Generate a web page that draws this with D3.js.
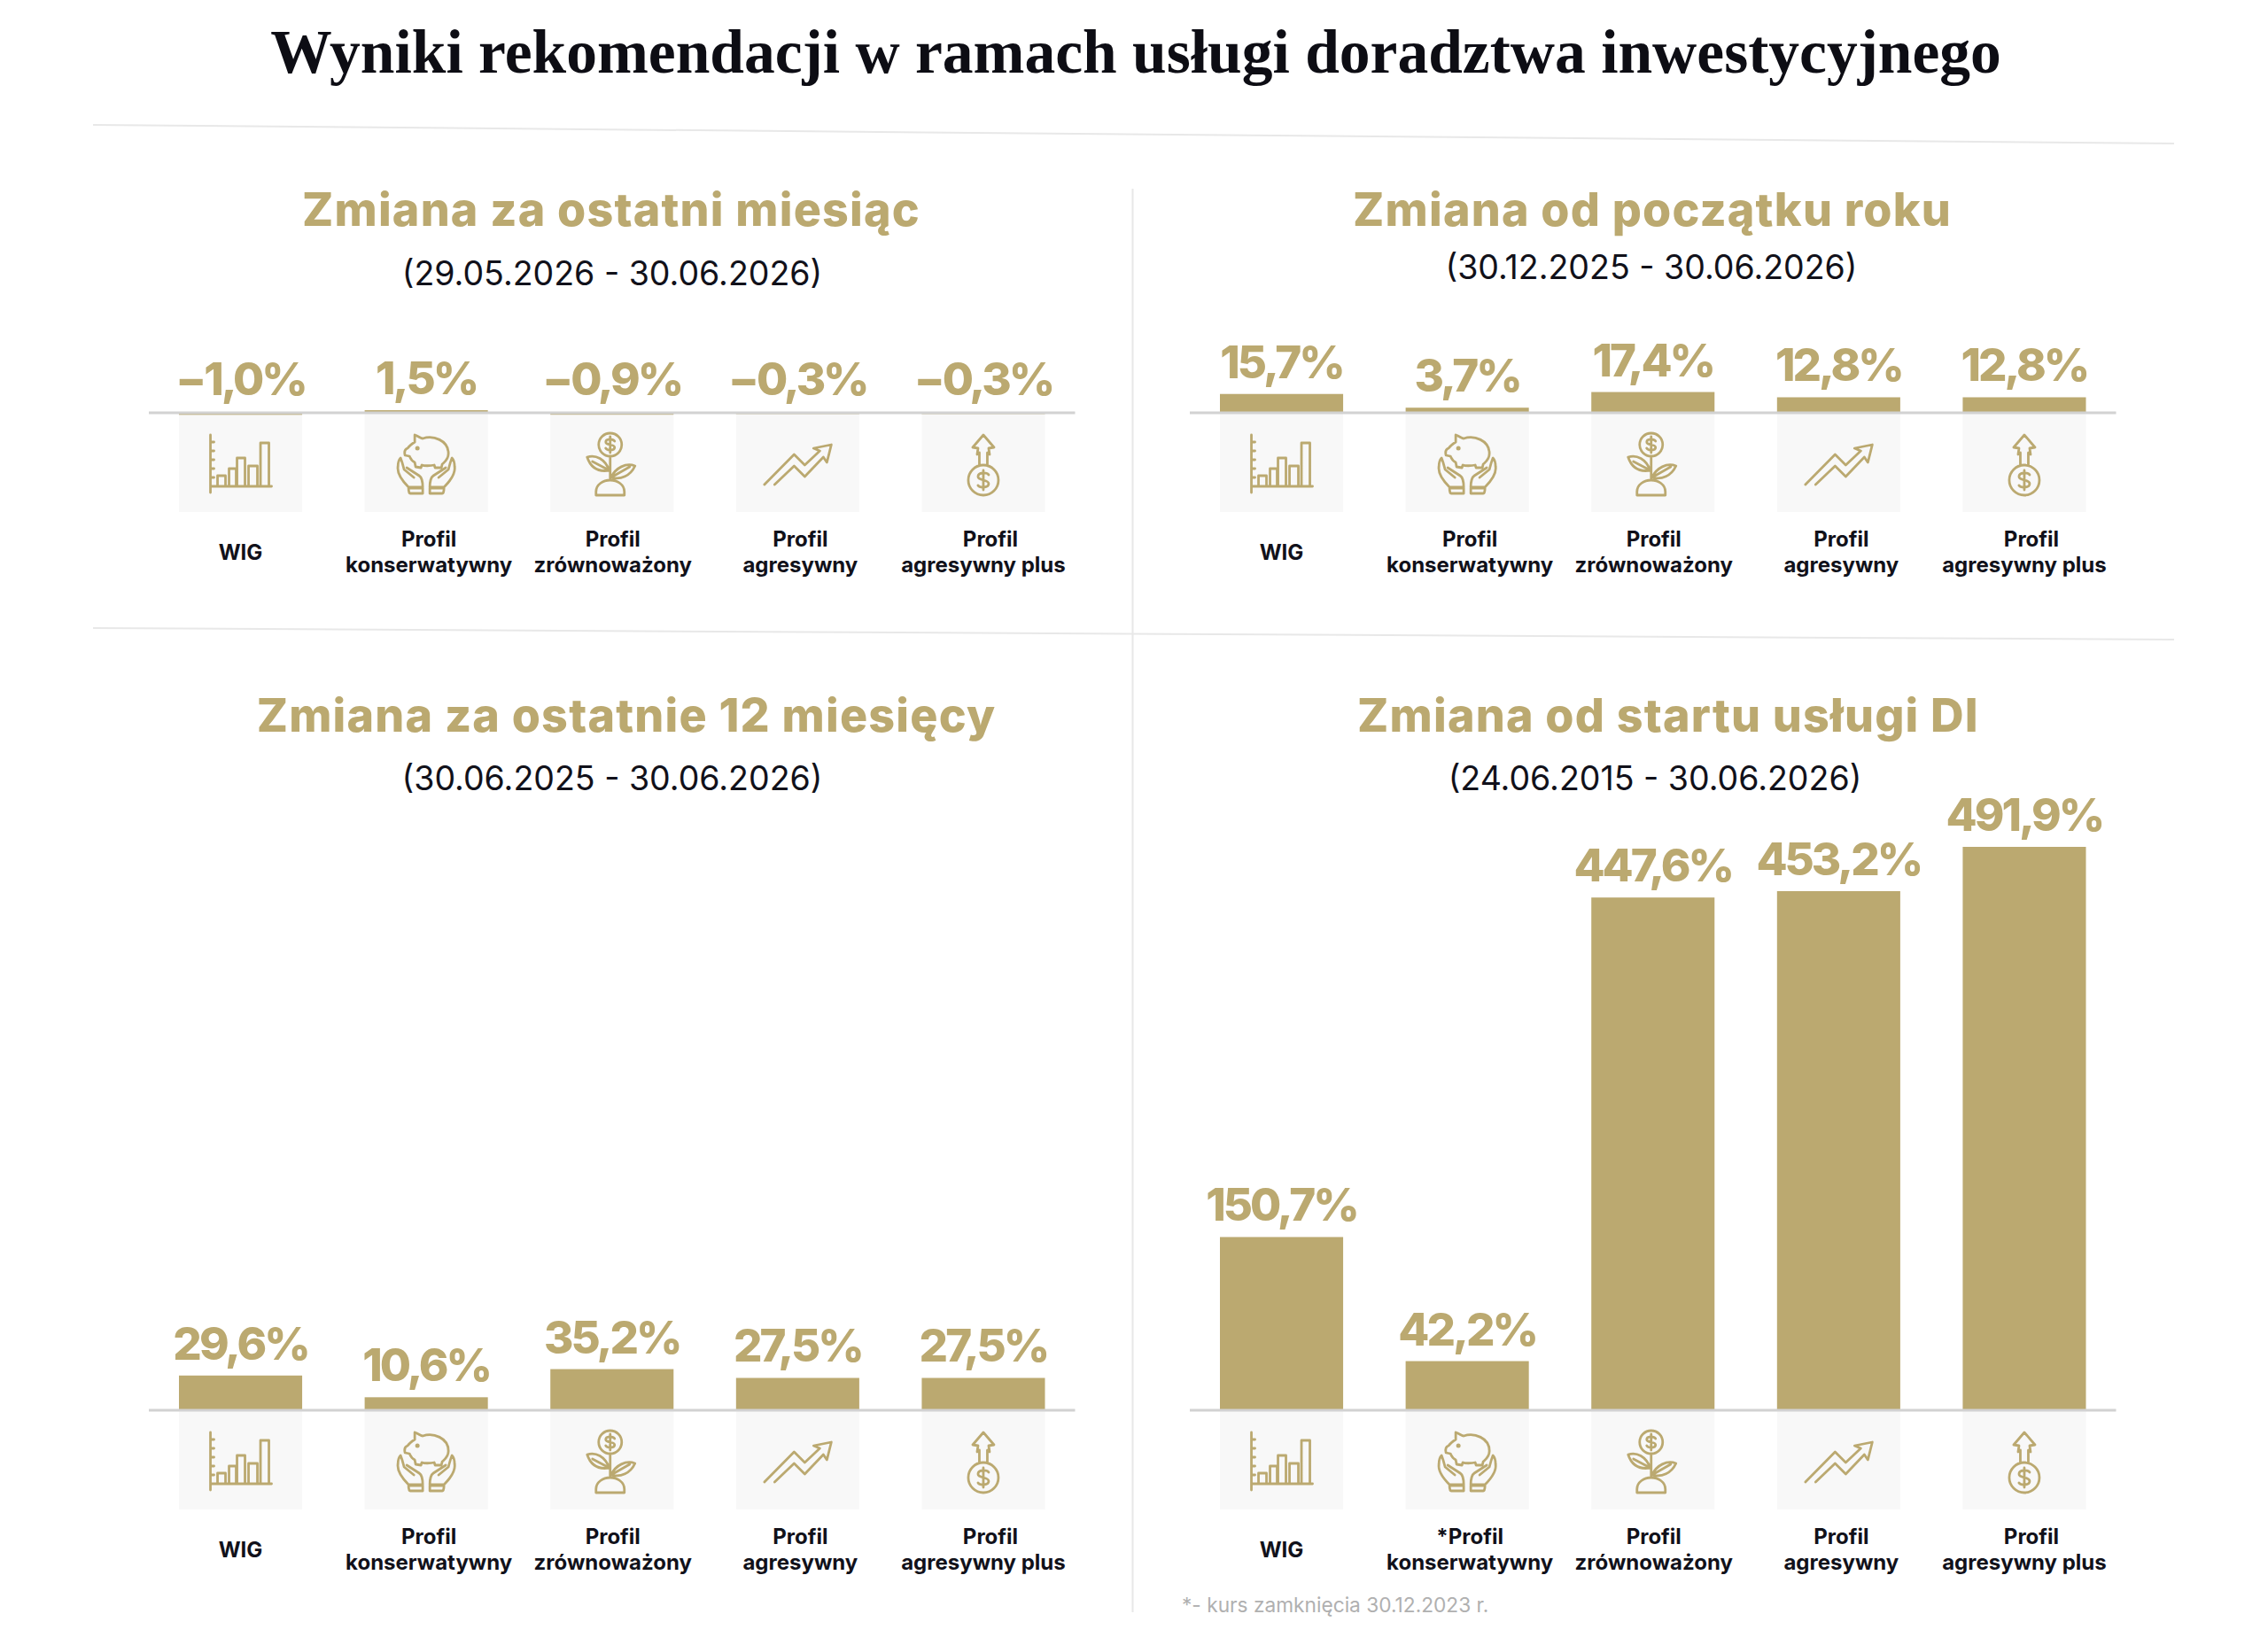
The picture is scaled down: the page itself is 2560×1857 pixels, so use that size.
<!DOCTYPE html>
<html>
<head>
<meta charset="utf-8">
<script src="https://cdn.jsdelivr.net/npm/d3@7"></script>
<style>
  body { margin: 0; background: #fff; }
  text { font-family: Inter, "Open Sans", sans-serif; }
</style>
</head>
<body>
<svg id="chart" width="2560" height="1857"></svg>
<script>
var pageTitle = "Wyniki rekomendacji w ramach usługi doradztwa inwestycyjnego";
var footnote = "*- kurs zamknięcia 30.12.2023 r.";

var categories = ["WIG", "Profil konserwatywny", "Profil zrównoważony", "Profil agresywny", "Profil agresywny plus"];
var labelsDefault = [["WIG"], ["Profil", "konserwatywny"], ["Profil", "zrównoważony"], ["Profil", "agresywny"], ["Profil", "agresywny plus"]];
var labelsStart = [["WIG"], ["*Profil", "konserwatywny"], ["Profil", "zrównoważony"], ["Profil", "agresywny"], ["Profil", "agresywny plus"]];

var monthValues = [-1.0, 1.5, -0.9, -0.3, -0.3];
var ytdValues = [15.7, 3.7, 17.4, 12.8, 12.8];
var yearValues = [29.6, 10.6, 35.2, 27.5, 27.5];
var startValues = [150.7, 42.2, 447.6, 453.2, 491.9];

var gold = "#bba970", dark = "#11111a";

var svg = d3.select("#chart");

svg.append("text")
    .attr("x", 1282).attr("y", 82)
    .attr("text-anchor", "middle")
    .style("font-family", '"Liberation Serif", serif')
    .style("font-weight", 700)
    .style("font-size", "69.5px")
    .attr("fill", "#0d0d14")
    .text(pageTitle);

// dividers, slightly tilted in the original
var dividers = [[105, 141, 2454, 162], [105, 709, 2454, 722], [1278.5, 213, 1278.5, 1820]];
svg.selectAll("line.divider").data(dividers).join("line")
    .attr("class", "divider")
    .attr("x1", d => d[0]).attr("y1", d => d[1])
    .attr("x2", d => d[2]).attr("y2", d => d[3])
    .attr("stroke", "#e8e8e8").attr("stroke-width", 2);

// icons, drawn around the middle of the grey box
var icons = [
  // WIG: small bar chart
  "M-34,-31V34M-34,27H35M-34,-23H-30M-34,-13H-30M-34,-3H-30M-34,7H-30M-34,17H-30" +
  "M-26,27V15H-17V27M-13,27V7H-5V27M-4,27V-5H5V27M9,27V4H19V27M22.5,27V-22H32V27",
  // piggy bank in two hands
  "M-13,-31C-8,-29 -6,-27 -4,-27C8,-31 25,-25 25,-10C25,-3 20,0 18,2L17,6L10,6L9,3C5,4 -3,4 -5,3L-6,6L-12,5L-13,0C-17,-2 -18,-5 -19,-7L-24,-8C-25,-12 -24,-15 -21,-16C-19,-19 -16,-21 -13,-23Z" +
  "M-20,28C-28,20 -33,12 -32,5C-32,0 -31,-3 -29,-5C-27,0 -26,4 -25,8L-14,17M-20,28H-4C-4,22 -5,17 -8,15L-22,6M-20,29H-4V35H-18Q-20,35 -20,29" +
  "M20,28C28,20 33,12 32,5C32,0 31,-3 29,-5C27,0 26,4 25,8L14,17M20,28H4C4,22 5,17 8,15L22,6M20,29H4V35H18Q20,35 20,29",
  // plant with a coin
  "M-2,-33A13,13 0 1 1 -2,-7A13,13 0 1 1 -2,-33ZM-2,-6V20M-18,37V33C-18,25 -10,20 -2,20C6,20 14,25 14,33V37Z" +
  "M-28,-6C-18,-9 -8,-4 -3,9C-15,11 -24,6 -28,-6ZM26,4C16,0 4,6 -1,17C10,20 21,15 26,4ZM-22,-1L-3,9M20,5L-1,17" +
  "M3,-24C1,-27 -7,-27 -7,-23C-7,-19 3,-21 3,-17C3,-13 -5,-13 -7,-16M-2,-29V-11",
  // zigzag arrow
  "M-37.5,25L-4,-9L8,3L25,-13L18,-16L38,-20L33,0L29,-6L8,16L-4,4L-26,25",
  // arrow out of a coin
  "M-4.5,3V-11L-7,-9L-6,-16L-12,-17L0,-31L12,-17L6,-16L7,-9L4.5,-11V3" +
  "M0,3A17,17 0 1 1 0,37A17,17 0 1 1 0,3Z" +
  "M6,14C4,11 -6,11 -6,16C-6,21 6,19 6,24C6,29 -4,29 -6,26M0,9V31"
];
var iconEye = [-10, -16];

function fmt(v) {
  return v.toFixed(1).replace(".", ",").replace("-", "\u2212") + "%";
}

// one panel = one bar chart
function drawPanel(o) {
  var g = svg.append("g");
  var x = d3.scaleBand().domain(categories).range(o.xRange).paddingInner(0.3365).paddingOuter(0);
  // same scale in all panels: 491,9 reaches y = 957 in the last one
  var y = d3.scaleLinear().domain([0, 491.9]).range([o.base - 1, o.base - 636]);

  g.append("text")
      .attr("x", o.titleX).attr("y", o.titleY)
      .attr("text-anchor", "middle")
      .style("font-weight", 800).style("font-size", "52px").style("letter-spacing", "1.2px")
      .attr("fill", gold)
      .text(o.title);

  g.append("text")
      .attr("x", o.subX).attr("y", o.subY)
      .attr("text-anchor", "middle")
      .style("font-weight", 400).style("font-size", "37.5px")
      .attr("fill", dark)
      .text(o.sub);

  g.selectAll("rect.box").data(categories).join("rect")
      .attr("class", "box")
      .attr("x", d => x(d)).attr("width", x.bandwidth())
      .attr("y", o.base).attr("height", 112)
      .attr("fill", "#f8f8f8");

  g.selectAll("rect.bar").data(o.values).join("rect")
      .attr("class", "bar")
      .attr("x", (d, i) => x(categories[i])).attr("width", x.bandwidth())
      .attr("y", d => (d < 0 ? o.base : y(d)))
      .attr("height", d => (d < 0 ? y(d) - y(0) + 1 : o.base - y(d)))
      .attr("fill", gold);

  // baseline
  g.append("line")
      .attr("x1", o.xRange[0] - 34).attr("x2", o.xRange[1] + 34)
      .attr("y1", o.base).attr("y2", o.base)
      .attr("stroke", "#d2d2d2").attr("stroke-width", 3);

  g.selectAll("text.value").data(o.values).join("text")
      .attr("class", "value")
      .attr("x", (d, i) => x(categories[i]) + x.bandwidth() / 2)
      .attr("y", d => (d < 0 ? o.base - 20 : y(d) - 18))
      .attr("text-anchor", "middle")
      .style("font-weight", 800).style("font-size", "51px").style("letter-spacing", "-3px")
      .attr("fill", gold)
      .text(fmt);

  var cell = g.selectAll("g.icon").data(categories).join("g")
      .attr("class", "icon")
      .attr("transform", d => "translate(" + (x(d) + x.bandwidth() / 2) + "," + (o.base + 56) + ")");

  cell.append("path")
      .attr("d", (d, i) => icons[i])
      .attr("fill", "none").attr("stroke", gold).attr("stroke-width", 2.8)
      .attr("stroke-linejoin", "round").attr("stroke-linecap", "round");

  cell.filter((d, i) => i === 1).append("circle")
      .attr("cx", iconEye[0]).attr("cy", iconEye[1]).attr("r", 2.5).attr("fill", gold);

  // labels are not quite centred under the boxes in the original, line by line
  var nudge = [[0], [3, 3], [1, 1], [3, 3], [8, 0]];
  var lab = g.selectAll("text.cat").data(o.labels).join("text")
      .attr("class", "cat")
      .attr("text-anchor", "middle")
      .style("font-weight", 700).style("font-size", "24px")
      .attr("fill", dark);
  lab.each(function(lines, i) {
    var cx = x(categories[i]) + x.bandwidth() / 2;
    d3.select(this).selectAll("tspan").data(lines).join("tspan")
        .attr("x", (d, j) => cx + nudge[i][j])
        .attr("y", (d, j) => lines.length === 1 ? o.base + 166 : o.base + 151 + j * 29)
        .text(d => d);
  });
}

drawPanel({ title: "Zmiana za ostatni miesiąc", sub: "(29.05.2026 - 30.06.2026)", values: monthValues, labels: labelsDefault,
  xRange: [202, 1179.5], base: 466, titleX: 690, titleY: 255, subX: 691, subY: 322 });
drawPanel({ title: "Zmiana od początku roku", sub: "(30.12.2025 - 30.06.2026)", values: ytdValues, labels: labelsDefault,
  xRange: [1377, 2354.5], base: 466, titleX: 1865, titleY: 255, subX: 1864, subY: 315 });
drawPanel({ title: "Zmiana za ostatnie 12 miesięcy", sub: "(30.06.2025 - 30.06.2026)", values: yearValues, labels: labelsDefault,
  xRange: [202, 1179.5], base: 1592, titleX: 707, titleY: 826, subX: 691, subY: 892 });
drawPanel({ title: "Zmiana od startu usługi DI", sub: "(24.06.2015 - 30.06.2026)", values: startValues, labels: labelsStart,
  xRange: [1377, 2354.5], base: 1592, titleX: 1883, titleY: 826, subX: 1868, subY: 892 });

svg.append("text")
    .attr("x", 1334).attr("y", 1820)
    .style("font-weight", 400).style("font-size", "22.7px")
    .attr("fill", "#b0b0b0")
    .text(footnote);
</script>
</body>
</html>
